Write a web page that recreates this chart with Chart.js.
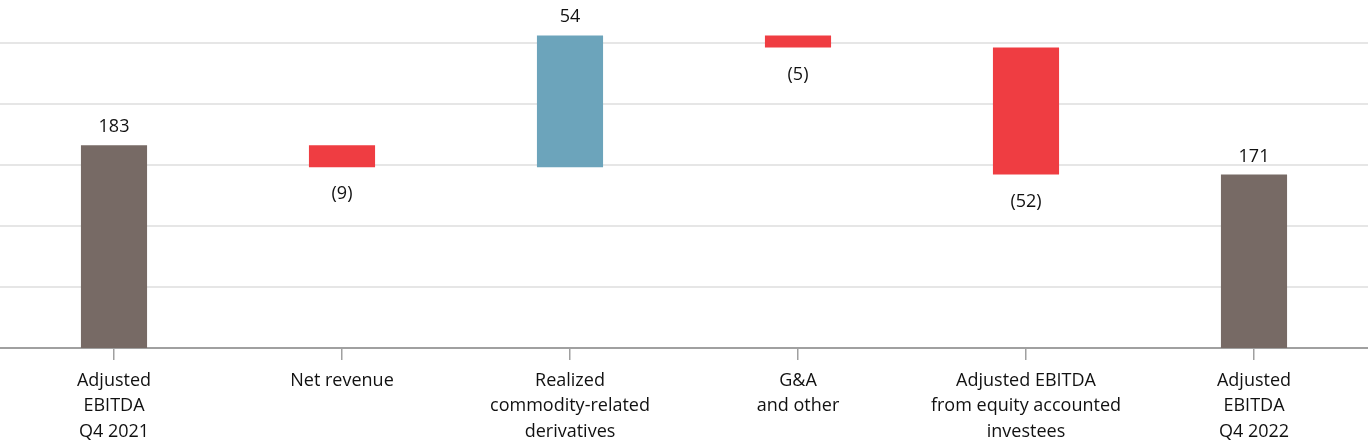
<!DOCTYPE html>
<html>
<head>
<meta charset="utf-8">
<script src="https://cdn.jsdelivr.net/npm/chart.js@4"></script>
<style>
  html, body { margin: 0; padding: 0; background: #fff; }
  #wrap { width: 1368px; height: 440px; position: relative; }
</style>
</head>
<body>
<div id="wrap"><canvas id="c"></canvas></div>
<script>
const categories = [
  ["Adjusted", "EBITDA", "Q4 2021"],
  "Net revenue",
  ["Realized", "commodity-related", "derivatives"],
  ["G&A", "and other"],
  ["Adjusted EBITDA", "from equity accounted", "investees"],
  ["Adjusted", "EBITDA", "Q4 2022"]
];
const changes = [183, -9, 54, -5, -52, 171];
const kinds = ["total", "delta", "delta", "delta", "delta", "total"];
const valueLabels = ["183", "(9)", "54", "(5)", "(52)", "171"];
const yTicks = [100, 125, 150, 175, 200, 225];

const COLOR_TOTAL = "#776a65";
const COLOR_UP = "#6ca4bb";
const COLOR_DOWN = "#ef3d42";

// build floating ranges for waterfall
let running = 0;
const ranges = changes.map((v, i) => {
  if (kinds[i] === "total") { running = v; return [0, v]; }
  const start = running; running = start + v; return [start, running];
});
const colors = changes.map((v, i) => kinds[i] === "total" ? COLOR_TOTAL : (v >= 0 ? COLOR_UP : COLOR_DOWN));

const labelPlugin = {
  id: "valueLabels",
  afterDatasetsDraw(chart) {
    const ctx = chart.ctx;
    const meta = chart.getDatasetMeta(0);
    const y = chart.scales.y;
    ctx.save();
    ctx.font = '18px "Open Sans"';
    ctx.fillStyle = "#111";
    ctx.textAlign = "center";
    ctx.textBaseline = "alphabetic";
    meta.data.forEach((bar, i) => {
      const r = ranges[i];
      const hi = Math.max(r[0], r[1]), lo = Math.min(r[0], r[1]);
      const positive = changes[i] >= 0;
      if (positive) {
        ctx.fillText(valueLabels[i], bar.x, y.getPixelForValue(hi) - 13);
      } else {
        ctx.fillText(valueLabels[i], bar.x, y.getPixelForValue(lo) + 32);
      }
    });
    ctx.restore();
  }
};

new Chart(document.getElementById("c"), {
  type: "bar",
  data: {
    labels: categories,
    datasets: [{
      data: ranges,
      backgroundColor: colors,
      borderWidth: 0,
      barPercentage: 0.29,
      categoryPercentage: 1.0
    }]
  },
  options: {
    responsive: true,
    maintainAspectRatio: false,
    animation: false,
    layout: { padding: 0 },
    plugins: { legend: { display: false }, tooltip: { enabled: false } },
    scales: {
      x: {
        offset: true,
        grid: { display: true, drawOnChartArea: false, drawTicks: true, tickLength: 12, color: "#a0a0a0", lineWidth: 1.5, offset: false },
        border: { display: true, color: "#a0a0a0", width: 2 },
        ticks: { color: "#111", font: { family: "Open Sans", size: 18, lineHeight: 1.42 }, padding: 8, maxRotation: 0, autoSkip: false },
        afterFit(scale) { scale.height = 92; }
      },
      y: {
        display: true,
        min: 100,
        max: 242.5,
        afterBuildTicks(scale) { scale.ticks = yTicks.map(v => ({ value: v })); },
        grid: { color: "#e6e6e6", lineWidth: 2, drawTicks: false },
        border: { display: false },
        ticks: { display: false },
        afterFit(scale) { scale.width = 0; }
      }
    }
  },
  plugins: [labelPlugin]
});
</script>
</body>
</html>
